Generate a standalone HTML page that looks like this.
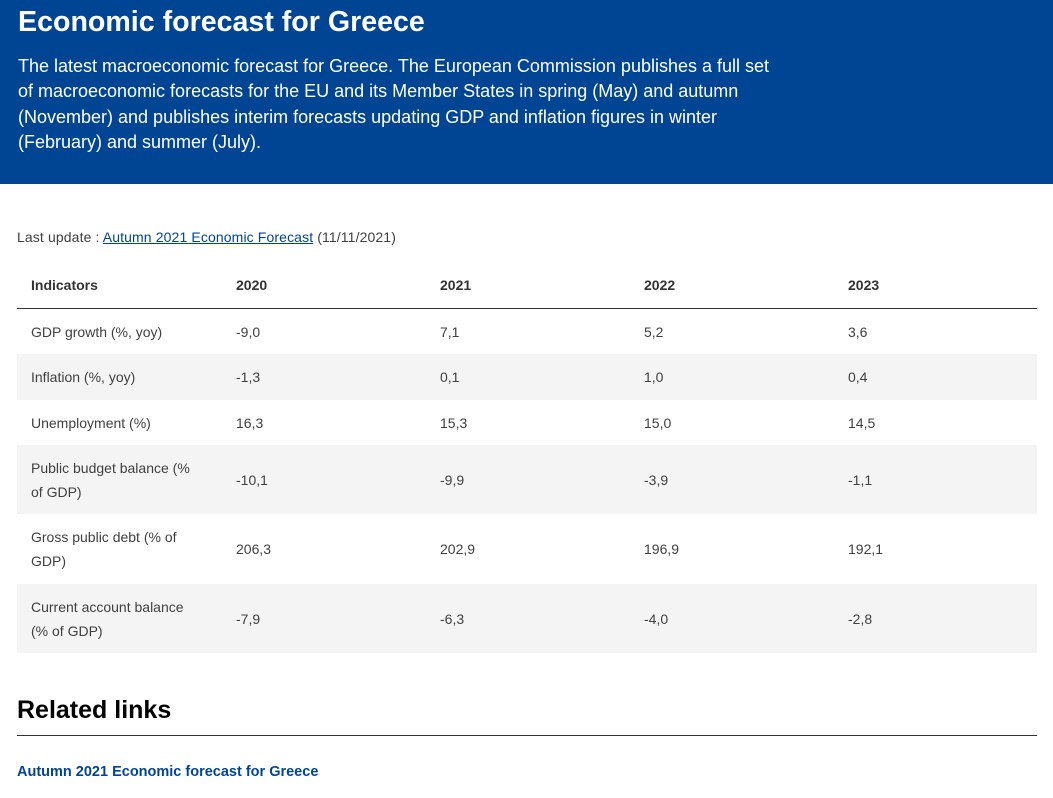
<!DOCTYPE html>
<html><head><meta charset="utf-8"><style>
*{margin:0;padding:0;box-sizing:border-box}
body{width:1053px;height:798px;background:#fff;font-family:"Liberation Sans",Arial,sans-serif;color:#333;position:relative;overflow:hidden}
.hdr{position:absolute;left:0;top:0;width:1053px;height:184px;background:#004494;color:#fff}
.hdr h1{position:absolute;left:18px;top:4px;font-size:28.6px;font-weight:bold;line-height:36px}
.hdr p{position:absolute;left:18px;top:54px;width:760px;font-size:18px;line-height:25.3px}
.lu{position:absolute;left:17px;top:229px;font-size:14px;letter-spacing:0.12px;color:#404040}
.lu a{color:#004494}
.row{position:absolute;left:17px;width:1020px;font-size:14px;color:#404040}
.row div{position:absolute;top:0;height:100%;display:flex;align-items:center;line-height:24px}
.c0{left:14px;width:172px}.c1{left:219px}.c2{left:423px}.c3{left:627px}.c4{left:831px}
.hd{font-weight:bold;color:#333;border-bottom:1px solid #333}
.s{background:#f4f4f4}
h2{position:absolute;left:17px;top:696px;font-size:25px;font-weight:bold;color:#000}
.ln{position:absolute;left:17px;top:735px;width:1020px;height:1px;background:#333}
.rl{position:absolute;left:17px;top:764px;font-size:14.5px;font-weight:bold;color:#004494}
</style></head><body>
<div class="hdr"><h1>Economic forecast for Greece</h1>
<p>The latest macroeconomic forecast for Greece. The European Commission publishes a full set of macroeconomic forecasts for the EU and its Member States in spring (May) and autumn (November) and publishes interim forecasts updating GDP and inflation figures in winter (February) and summer (July).</p></div>
<div class="lu">Last update : <a href="#">Autumn 2021 Economic Forecast</a> (11/11/2021)</div>
<div class="row hd" style="top:262px;height:47px"><div class="c0">Indicators</div><div class="c1">2020</div><div class="c2">2021</div><div class="c3">2022</div><div class="c4">2023</div></div>
<div class="row" style="top:309px;height:45px"><div class="c0">GDP growth (%, yoy)</div><div class="c1">-9,0</div><div class="c2">7,1</div><div class="c3">5,2</div><div class="c4">3,6</div></div>
<div class="row s" style="top:354px;height:46px"><div class="c0">Inflation (%, yoy)</div><div class="c1">-1,3</div><div class="c2">0,1</div><div class="c3">1,0</div><div class="c4">0,4</div></div>
<div class="row" style="top:400px;height:45px"><div class="c0">Unemployment (%)</div><div class="c1">16,3</div><div class="c2">15,3</div><div class="c3">15,0</div><div class="c4">14,5</div></div>
<div class="row s" style="top:445px;height:69px"><div class="c0">Public budget balance (% of GDP)</div><div class="c1">-10,1</div><div class="c2">-9,9</div><div class="c3">-3,9</div><div class="c4">-1,1</div></div>
<div class="row" style="top:514px;height:70px"><div class="c0">Gross public debt (% of GDP)</div><div class="c1">206,3</div><div class="c2">202,9</div><div class="c3">196,9</div><div class="c4">192,1</div></div>
<div class="row s" style="top:584px;height:69px"><div class="c0">Current account balance<br>(% of GDP)</div><div class="c1">-7,9</div><div class="c2">-6,3</div><div class="c3">-4,0</div><div class="c4">-2,8</div></div>
<h2>Related links</h2><div class="ln"></div>
<div class="rl">Autumn 2021 Economic forecast for Greece</div>
</body></html>
